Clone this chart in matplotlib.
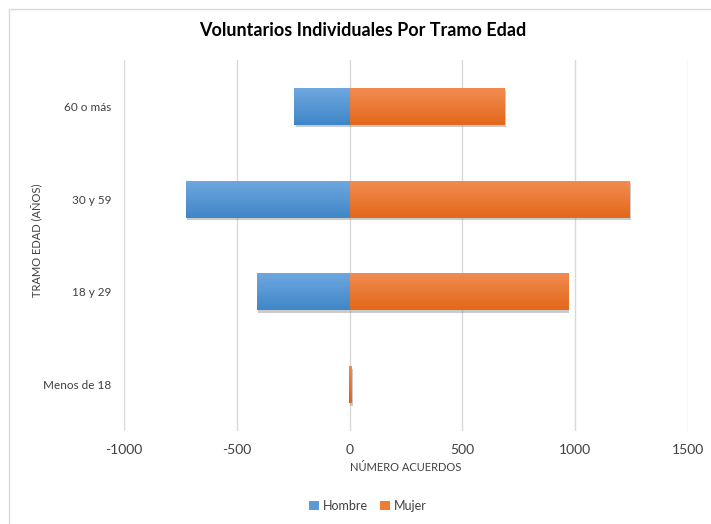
import numpy as np
import matplotlib
matplotlib.use("Agg")
import matplotlib.pyplot as plt
import matplotlib.patheffects as pe
from matplotlib.colors import LinearSegmentedColormap
from matplotlib.patches import Rectangle, Patch

plt.rcParams['font.family'] = ['Lato', 'DejaVu Sans']
plt.rcParams['axes.unicode_minus'] = False

categorias = ['Menos de 18', '18 y 29', '30 y 59', '60 o más']
hombre = [-4, -412, -726, -246]
mujer = [6, 967, 1240, 686]
ticks_x = [-1000, -500, 0, 500, 1000, 1500]

azul = '#5B9BD5'
naranja = '#ED7D31'
grad_azul = LinearSegmentedColormap.from_list('az', ['#3F86C8', '#6FA8DF'])
grad_naranja = LinearSegmentedColormap.from_list('na', ['#E3681A', '#F28C52'])

fig = plt.figure(figsize=(7.11, 5.24), dpi=100)
ax = fig.add_axes([124/711, 1 - 431/524, (688 - 124)/711, (431 - 60)/524])

# borde del area del grafico
fig.patches.append(Rectangle((9/711, -0.1), 1.2, 1 - 9/524 + 0.1,
                             transform=fig.transFigure, fill=False,
                             edgecolor='#D9D9D9', linewidth=1.0))

y = np.arange(len(categorias))
sombra = [pe.SimplePatchShadow(offset=(1.2, -1.8), shadow_rgbFace='#8C8C8C', alpha=0.45),
          pe.Normal()]
b1 = ax.barh(y, hombre, height=0.4, color=azul, label='Hombre', zorder=3)
b2 = ax.barh(y, mujer, height=0.4, color=naranja, label='Mujer', zorder=3)

gradiente = np.linspace(0, 1, 64).reshape(-1, 1)
for barras, cmap in [(b1, grad_azul), (b2, grad_naranja)]:
    for p in barras:
        p.set_path_effects(sombra)
        x0, yb = p.get_x(), p.get_y()
        w, h = p.get_width(), p.get_height()
        im = ax.imshow(gradiente, cmap=cmap, aspect='auto', origin='lower',
                       extent=[x0, x0 + w, yb, yb + h], zorder=4)
        im.set_clip_path(p)

ax.set_xlim(-1000, 1500)
ax.set_ylim(-0.5, 3.5)
ax.set_xticks(ticks_x)
ax.set_yticks(y)
ax.set_yticklabels(categorias)
ax.grid(axis='x', color='#D9D9D9', linewidth=1.0, zorder=0)
ax.set_axisbelow(True)
for s in ax.spines.values():
    s.set_visible(False)
ax.tick_params(axis='both', length=0, labelsize=10, colors='#404040')
ax.tick_params(axis='x', pad=9)
ax.tick_params(axis='y', pad=9, labelsize=8.5)

ax.set_xlabel('NÚMERO ACUERDOS', fontsize=8, color='#404040', labelpad=5)
fig.text(37/711, 1 - 240/524, 'TRAMO EDAD (AÑOS)', rotation=90,
         ha='center', va='center', fontsize=8, color='#404040')

fig.text(363/711, 1 - 31/524, 'Voluntarios Individuales Por Tramo Edad',
         ha='center', va='center', fontsize=13, fontweight='bold', color='black')

handles = [Patch(facecolor=azul), Patch(facecolor=naranja)]
fig.legend(handles, ['Hombre', 'Mujer'], loc='center', ncol=2,
           bbox_to_anchor=(368/711, 1 - 506/524), frameon=False,
           fontsize=9, handlelength=0.8, handleheight=0.8, handletextpad=0.3,
           columnspacing=1.0, labelcolor='#404040')

fig.savefig('out.png', dpi=100, facecolor='white')
